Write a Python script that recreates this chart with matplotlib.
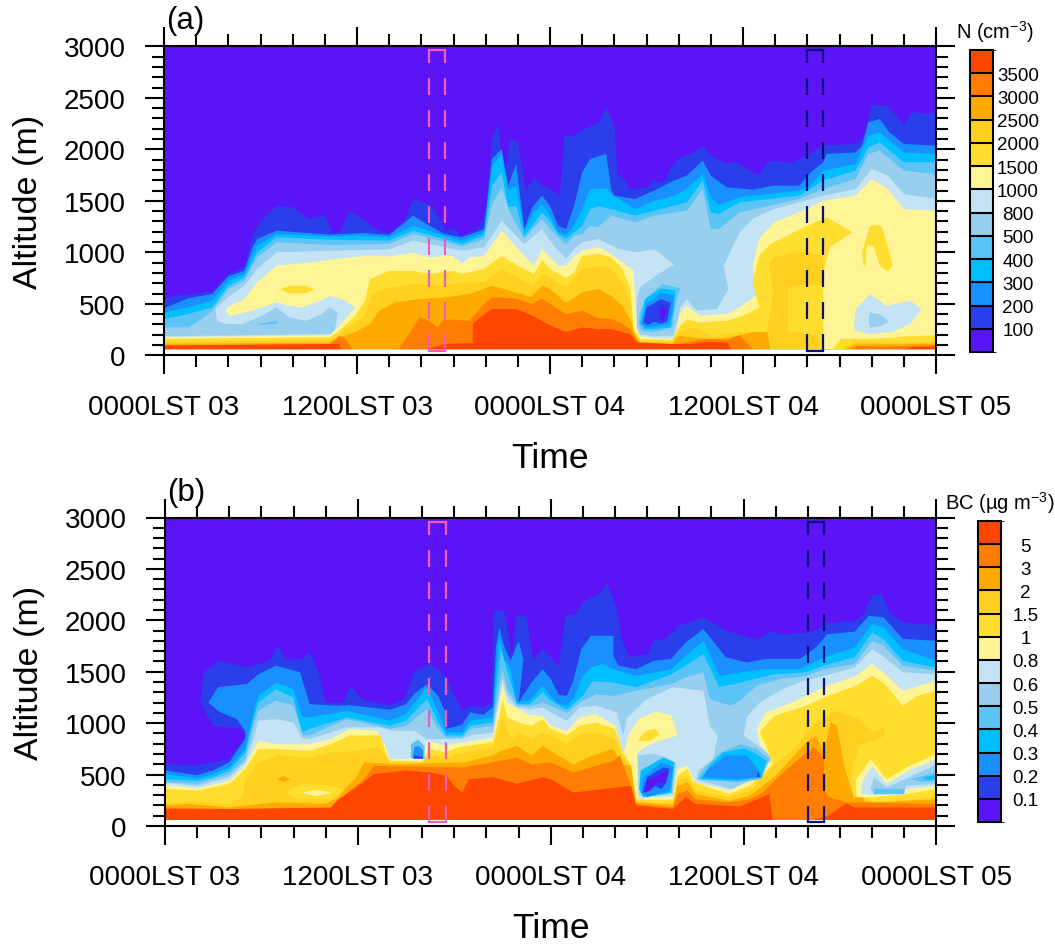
import matplotlib
matplotlib.use('Agg')
import matplotlib.pyplot as plt
import matplotlib as mpl
from matplotlib.colors import ListedColormap, BoundaryNorm

plt.rcParams['font.family'] = ['Liberation Sans', 'DejaVu Sans']
plt.rcParams['mathtext.default'] = 'regular'

# class colours, low to high
colors = ["#5A14F5", "#2A3FEB", "#1A90FF", "#00BEFF", "#5CC3F5", "#98CEEE", "#C4E4F6",
          "#FFF596", "#FFDE30", "#FFD020", "#FFAA00", "#FF7D00", "#FF4600"]
n_labels = ["100", "200", "300", "400", "500", "800", "1000", "1500", "2000", "2500", "3000", "3500"]
bc_labels = ["0.1", "0.2", "0.3", "0.4", "0.5", "0.6", "0.8", "1", "1.5", "2", "3", "5"]
x_labels = ["0000LST 03", "1200LST 03", "0000LST 04", "1200LST 04", "0000LST 05"]
base = 60  # lowest altitude with data

# ── Panel (a): contour tops as (hour, altitude m), one list per threshold ──
a_100 = [(0,550),(1,585),(2,595),(3,620),(4,790),(5,855),(5.5,1160),(6,1300),(7,1450),(8,1440),(9,1320),(10,1360),
         (10.5,1180),(11,1210),(11.5,1390),(12,1370),(13,1240),(14,1180),(15,1320),(15.5,1520),(16,1490),(16.5,1460),
         (17,1360),(17.5,1210),(18,1230),(18.5,1155),(19,1195),(19.5,1220),(20,1390),(20.4,2100),(20.8,2240),(21.1,1620),
         (21.5,2100),(22,2070),(22.5,1600),(23,1730),(23.5,1650),(24,1620),(24.6,1550),(24.9,2130),(25.5,2130),(26,2190),
         (27,2255),(27.5,2400),(28,2230),(28.2,1750),(28.5,1730),(29,1610),(30,1630),(30.5,1700),(31,1670),(31.5,1810),
         (32,1910),(33,1970),(33.5,2030),(34,1940),(35,1860),(35.5,1880),(36,1830),(37,1750),(37.5,1870),(38,1890),
         (39,1870),(40,1940),(41,2040),(43,2050),(43.5,2120),(44,2430),(45,2420),(46,2240),(46.5,2360),(48,2340)]
a_200 = [(0,456),(1.5,553),(3,595),(4,767),(5,822),(5.5,1048),(5.8,1130),(7,1210),(10.3,1171),(12.4,1188),(14,1168),
         (15.5,1356),(16.5,1259),(17.4,1178),(18.5,1146),(19.4,1194),(19.9,1226),(20.4,1906),(21,2003),(21.4,1647),
         (21.9,1857),(22.4,1226),(22.9,1437),(23.5,1550),(24,1453),(24.5,1259),(25,1226),(25.5,1453),(26,1777),(26.5,1906),
         (27.5,1955),(27.8,1615),(28,1550),(29.3,1518),(30.5,1600),(31.7,1696),(32.5,1744),(33.5,1890),(34,1744),(35,1631),
         (36.6,1608),(37.9,1647),(39.5,1647),(40.2,1777),(41,1874),(41.2,1955),(43,1970),(43.4,2035),(43.8,2262),(44.5,2294),
         (45.1,2165),(46,2052),(48,2035)]
a_300 = [(0,417),(1.5,466),(3,530),(4,725),(5,790),(5.8,1065),(7,1178),(10.3,1155),(12.4,1162),(14,1146),(15.5,1259),
         (16.5,1210),(17.4,1162),(18.5,1113),(19.4,1162),(19.9,1194),(20.4,1841),(21,1955),(21.4,1600),(21.9,1647),(22.4,1210),
         (23,1388),(23.5,1469),(24,1356),(24.5,1194),(25,1168),(25.5,1259),(26,1420),(26.5,1615),(27.5,1620),(27.8,1566),
         (29.3,1420),(30.5,1500),(31.7,1550),(32.5,1615),(33.5,1760),(34,1534),(34.5,1460),(35.8,1534),(36.6,1550),(39.5,1600),
         (40.2,1647),(41,1793),(43,1857),(43.8,2132),(44.5,2165),(45.1,2084),(46,1970),(48,1955)]
a_400 = [(0,353),(1.5,401),(3,466),(4,676),(5,757),(5.8,1000),(7,1146),(10.3,1123),(14,1113),(15.5,1210),(17.4,1130),
         (18.5,1081),(19.9,1162),(20.4,1647),(21,1777),(21.4,1437),(21.9,1453),(22.4,1155),(23.5,1388),(24,1307),(24.5,1178),
         (25,1130),(25.5,1194),(26,1259),(26.5,1420),(27,1446),(27.8,1420),(29.3,1356),(30.5,1404),(32.5,1485),(33.5,1696),
         (34,1388),(34.5,1372),(35.8,1485),(39.5,1550),(41,1696),(43,1793),(43.8,2019),(44.5,2068),(46,1874),(48,1874)]
a_500 = [(0,272),(1.5,272),(2.2,337),(3,434),(4,644),(5,725),(5.8,951),(7,1097),(10.3,1071),(14,1081),(15.5,1178),(17.4,1103),
         (18.5,1058),(19.9,1129),(20.4,1469),(21,1631),(21.5,1388),(22.4,1136),(23.5,1324),(24,1226),(24.5,1146),(25,1081),
         (25.5,1162),(26,1178),(26.5,1259),(27,1245),(27.8,1356),(29.3,1291),(30.5,1356),(32.5,1404),(33.5,1615),(34,1226),
         (34.5,1226),(35.8,1388),(39.5,1518),(41,1615),(43,1712),(43.8,1955),(44.5,1987),(46,1793),(48,1760)]
a_800 = [(0,185),(10.3,205),(10.6,225),(10.8,415),(10.3,465),(9.8,400),(8.8,335),(7.8,370),(7,465),(6.1,385),(4.9,305),
         (3.9,305),(3.3,335),(3.2,450),(4.1,580),(5,675),(5.8,840),(7,1000),(10.3,1015),(14,1030),(15.5,1115),(17.4,1050),
         (18.5,1015),(19.9,1050),(21,1305),(21.5,1225),(22.4,1080),(23.5,1225),(24,1115),(24.5,1015),(25,940),(25.5,1030),
         (26,1095),(27,1130),(28.3,1030),(29.4,1000),(30.5,1030),(31.7,880),(30.6,775),(29.6,660),(29.4,545),(29.4,275),
         (29.6,205),(30.4,185),(31.7,190),(31.8,270),(32.1,465),(32.5,545),(33.1,435),(34.4,450),(35.1,645),(34.8,870),
         (35.8,1195),(36.6,1325),(37.9,1420),(39.5,1485),(41,1550),(43,1615),(44,1810),(45,1745),(46,1565),(48,1520)]
a_1000 = [(0,175),(10.3,195),(10.7,255),(11.9,465),(11.1,545),(10.3,575),(9.5,515),(8.6,465),(7.8,480),(7,515),(6.1,465),
          (5.1,415),(4.1,385),(3.8,435),(4.1,480),(5,545),(5.8,710),(7,870),(9,900),(10.7,935),(12.4,965),(14,960),(15.5,995),
          (16.5,950),(17.4,965),(18,965),(18.5,885),(19,950),(19.9,965),(21,1210),(22.2,1000),(23,870),(23.5,1030),(24,950),
          (24.5,870),(25,870),(25.5,960),(26,1015),(27,1050),(27.8,985),(28.5,900),(29.2,820),(29.3,545),(29.4,270),(29.6,185),
          (30.4,165),(31.6,165),(31.9,255),(32.1,415),(32.5,480),(33.3,385),(35,400),(35.8,465),(36.8,580),(36.6,870),(37,1130),
          (37.9,1290),(39.5,1390),(41,1500),(43,1550),(44,1710),(45,1615),(46,1420),(48,1405)]
a_1500 = [(0,160),(10.3,175),(10.8,225),(11.9,385),(12.5,530),(12.8,740),(14,820),(15.5,820),(16.5,790),(18,820),(18.5,790),
          (19,805),(19.9,840),(21,965),(22,870),(23,790),(23.5,920),(24,840),(25,750),(25.5,805),(26,965),(27,985),(27.8,950),
          (28.5,840),(29,645),(29.2,255),(29.6,160),(31.6,150),(32,270),(32.5,350),(33.3,320),(35,335),(36,385),(37,465),
          (36.6,710),(37,965),(37.7,1080),(40,1260),(41.2,1340),(42.8,1195),(41.4,1050),(41,805),(41,60)]
a_2000 = [(0,130),(10.3,150),(10.9,205),(11.9,320),(12.5,385),(12.9,595),(14,660),(15.5,690),(17.5,675),(18.6,710),(19.9,710),
          (21,840),(22,755),(23,675),(23.5,790),(24,755),(25,660),(26,840),(27,870),(27.8,840),(28.5,710),(29,530),(29.2,225),
          (29.6,140),(31.6,130),(32,225),(32.5,270),(33.3,255),(34.2,175),(35.8,225),(37.5,225),(37.9,610),(37.6,900),(37.9,950),
          (39.5,1015),(40.9,965),(41,870),(40.9,675),(40,690),(38.8,660),(38.8,225),(39.5,225),(40.6,190),(40.9,60)]
a_2500 = [(0,110),(10.3,125),(10.9,175),(11.9,225),(12.8,305),(13.4,435),(14.4,515),(15.9,545),(17.7,565),(19,595),(20.4,675),
          (21.9,610),(22.8,565),(23.5,675),(24,645),(25,510),(26,610),(27,645),(27.8,580),(28.5,480),(29,350),(29.3,190),(29.6,125),
          (31.6,110),(32,190),(33.7,160),(34.1,160),(35.3,175),(36.6,225),(37.5,225),(37.7,60)]
a_3000 = [(0,95),(10.3,110),(10.9,185),(11.3,160),(11.7,60),(14.6,60),(15.3,225),(15.9,370),(16.5,335),(17,270),(17.4,350),(19,335),
          (19.8,480),(20.4,565),(21.9,550),(22.9,500),(23.5,550),(24,500),(25,400),(26,435),(27,360),(27.8,355),(28.5,305),(29,255),
          (29.3,165),(29.6,110),(31.6,100),(33.7,160),(35,150),(35.8,195),(36.6,60)]
a_3500 = [(0,95),(10.9,110),(11,60),(16.5,60),(17.4,110),(19.2,120),(19.2,305),(19.8,385),(20.4,450),(21.9,450),(22.9,385),(24,290),
          (25,225),(26,270),(27,255),(27.8,255),(28.5,225),(29,205),(29.4,125),(31.6,110),(32.7,110),(33.7,130),(35,125),(35.3,60)]

# pockets and holes in panel (a), as (class index, outline)
a_yellow_left = [(7.2,640),(7.8,675),(8.8,675),(9.35,640),(8.8,600),(7.8,600)]
a_sky_left = [(5.9,305),(7,335),(7,305),(6,295)]
a_yellow_right = [(43.5,870),(43.4,1000),(43.9,1260),(44.6,1260),(45,1065),(45.3,870),(45,810),(44.5,870),(44.1,1065),(43.7,1065),(43.6,870)]
a_low_yellow = [(41.6,60),(42.1,160),(44.1,160),(46.2,185),(48,195),(48,60)]
a_low_gold = [(42.1,60),(42.9,125),(44.9,125),(46.6,110),(48,140),(48,60)]
a_low_amber = [(42.3,60),(43,105),(44.9,105),(48,115),(48,60)]
a_low_orange = [(42.7,60),(43.1,90),(44.9,85),(48,100),(48,60)]
a_low_red = [(46,60),(46.6,80),(48,85),(48,60)]
a_pale_right = [(42.9,270),(43,450),(43.9,595),(44.9,480),(46.4,530),(47.1,450),(46.4,305),(45.3,225),(43.9,205),(43,240)]
a_blue_right = [(43.8,335),(43.9,415),(44.5,400),(45.1,325),(44.5,280),(43.9,270)]
a_hole_sky = [(29.5,305),(29.6,415),(30,565),(31,690),(32.1,650),(31.8,480),(31.6,270),(30.4,225),(29.7,240)]
a_hole_cyan = [(29.6,305),(29.9,545),(30.9,650),(31.8,630),(31.7,465),(31.5,270),(30.5,255),(29.9,255)]
a_hole_azure = [(29.7,305),(30,500),(30.9,605),(31.7,580),(31.6,415),(31.4,305),(30.5,280),(30,270)]
a_hole_royal = [(29.8,320),(30,465),(30.9,545),(31.5,510),(31.3,335),(30.9,305),(30.5,325),(30.1,295)]
a_hole_violet = [(30.8,465),(31.3,465),(31,320),(30.8,385)]

# ── Panel (b) ──
b_01 = [(0,600),(2,590),(3,620),(4,650),(5,880),(4.7,945),(3,975),(2.2,1200),(2.4,1495),(3.4,1605),(5.1,1540),(6.5,1605),(7,1750),
        (7.5,1620),(8.5,1620),(9,1690),(9.5,1525),(10,1200),(11.1,1200),(11.5,1355),(12.1,1265),(12.3,1225),(14,1175),(14.9,1235),
        (15.5,1495),(16.5,1580),(17.5,1445),(18,1265),(18.5,1130),(19,1170),(19.8,1155),(20.3,1200),(20.5,2095),(21.1,2095),(21.6,1655),
        (21.9,2060),(22.5,2030),(22.9,1620),(23.5,1720),(24,1640),(24.5,1560),(24.9,2045),(25.5,2060),(26,2175),(27,2255),(27.5,2360),
        (28.1,2110),(28.4,1820),(28.9,1640),(30,1670),(30.5,1820),(31,1800),(32,1945),(33.5,2030),(34.9,1900),(36.8,1810),(37.6,1890),
        (38.5,1860),(39.9,1880),(40.5,1900),(41.2,1975),(42.9,1995),(43.5,2060),(44,2245),(44.6,2255),(45.1,2075),(46,1975),(48,1955)]
b_02 = [(0,540),(2,495),(3,540),(4,620),(5,845),(5,925),(4.45,1040),(3.4,1110),(2.7,1200),(3.3,1350),(5.1,1380),(5.8,1475),(6.9,1560),
        (8.4,1495),(9,1185),(10.7,1170),(11.5,1175),(14,1130),(15,1185),(15.5,1285),(16.3,1380),(17,1265),(17.4,1120),(17.5,945),(18.3,975),
        (18.5,990),(19,1105),(19.8,1080),(20.4,1155),(20.6,1750),(20.8,1930),(21.1,1750),(21.5,1605),(22,1800),(22.3,1620),(22,1200),
        (22.8,1395),(23.5,1525),(24,1430),(24.5,1275),(25,1265),(25.4,1410),(25.9,1720),(26.5,1850),(27.9,1850),(27.9,1655),(28.2,1560),
        (29.3,1525),(30.4,1605),(31.5,1625),(32.4,1785),(33.5,1915),(34.9,1640),(36.2,1590),(37.4,1625),(39.5,1625),(40.5,1735),(41.2,1865),
        (42.9,1890),(43.8,2045),(44.7,2030),(45.9,1820),(48,1800)]
b_03 = [(0,505),(2,465),(3,505),(4,570),(5,750),(5.5,1105),(5.8,1265),(6.9,1395),(8,1330),(8.5,1070),(9,1055),(11.3,1120),(14,1025),
        (15,1090),(16.3,1350),(17,1105),(17.5,910),(18.5,910),(19,1025),(20.4,1055),(20.6,1525),(20.8,1850),(21.1,1625),(21.5,1525),
        (21.9,1200),(22.7,1220),(23.5,1365),(24,1265),(24.5,1185),(25,1175),(25.4,1235),(26,1460),(26.5,1540),(27.2,1575),(27.9,1525),
        (29.3,1460),(31.5,1525),(32.4,1655),(33.5,1800),(34.5,1460),(35.8,1495),(37.4,1525),(39.5,1525),(41,1640),(42.9,1735),(44,1965),
        (44.7,1930),(45.9,1720),(48,1605)]
b_04 = [(0,455),(2,440),(3,475),(4,540),(5,715),(5.5,1040),(5.8,1200),(6.9,1330),(8,1250),(8.5,910),(9,945),(11.3,1055),(14,975),(15,1025),
        (16.3,1235),(17,1010),(17.5,880),(18.5,880),(19,975),(20.4,1010),(20.7,1460),(20.9,1720),(21.2,1560),(21.9,1185),(22.7,1185),
        (23.5,1300),(24,1220),(25,1130),(25.4,1185),(26,1265),(26.6,1410),(27.9,1395),(29.3,1350),(31.5,1475),(32.4,1560),(33.5,1670),
        (34.5,1350),(35.8,1395),(37.8,1475),(39.9,1495),(41,1560),(42.9,1640),(44,1880),(44.7,1820),(45.9,1605),(48,1540)]
b_05 = [(0,430),(2,410),(4,505),(5,650),(5.5,975),(5.8,1120),(6.9,1220),(8,1170),(8.6,880),(9,880),(11.3,1040),(14,945),(15,975),(16.3,1135),
        (17,945),(17.5,860),(18.5,860),(19,945),(20.4,975),(20.8,1365),(21,1525),(21.3,1330),(21.9,1175),(22.7,1165),(23.5,1200),(24,1170),
        (25,1100),(25.8,1200),(26.8,1280),(27.9,1265),(29.3,1315),(31.5,1380),(32.4,1445),(33.5,1495),(33.9,1235),(35.2,1170),(35.8,1220),
        (36.8,1365),(38.3,1430),(39.9,1460),(41,1525),(42.9,1575),(44,1800),(44.7,1755),(45.9,1560),(48,1510)]
b_06 = [(0,420),(2,390),(4,475),(5,620),(5.5,845),(5.8,1025),(6.9,1040),(8,1005),(8.5,860),(9,845),(11.3,960),(13.4,960),(14.1,925),(15.5,925),
        (16.3,845),(17.5,845),(18.5,845),(19,880),(20.4,910),(20.8,1265),(21,1430),(21.3,1265),(21.9,1155),(22.7,1135),(23.5,1155),(24,1105),
        (25,1025),(25.8,1155),(26.8,1170),(28.1,1105),(28.5,880),(28.75,1055),(30,1235),(31.6,1350),(33.5,1315),(33.9,975),(34.4,880),(34.1,650),
        (33.2,540),(33.1,450),(35.6,345),(36.9,440),(37.9,600),(37.6,700),(36,880),(36.2,1060),(37,1200),(38.3,1320),(39.5,1400),(41,1460),
        (42.9,1540),(44,1720),(44.7,1650),(45.9,1495),(48,1475)]
b_08 = [(0,400),(2,365),(4,440),(5,585),(5.8,830),(6.9,795),(9,795),(10.3,845),(11.5,945),(13.2,925),(13.7,780),(14,650),(16,655),(16.3,830),
        (17.5,780),(18.2,805),(20.4,860),(20.8,1200),(21,1380),(21.3,1200),(22,1135),(22.7,1080),(23.5,1070),(24,975),(25,925),(25.8,1055),
        (26.8,1090),(28,975),(28.5,700),(28.9,910),(29.5,1040),(30.5,1110),(31.5,1080),(31.9,880),(31,840),(30,780),(29.4,715),(29.4,360),
        (29.5,260),(30.4,280),(31.6,280),(31.9,555),(32.5,585),(33,425),(35.1,345),(36.4,440),(37.8,650),(37,795),(36.8,945),(37.4,1105),
        (39,1200),(41,1350),(43,1460),(44,1575),(44.7,1495),(45.9,1315),(48,1410)]
b_1 = [(0,360),(2,345),(4,410),(5,555),(5.8,750),(6.9,750),(9,730),(10.3,795),(11.5,880),(13.4,880),(13.8,685),(14,635),(16,625),(16.4,750),
       (17.5,715),(18.2,765),(20.4,815),(20.8,1070),(21,1235),(21.3,1055),(22,1005),(22.8,975),(23.5,1040),(24,945),(25,880),(25.8,975),(26.8,1005),
       (28,945),(28.5,715),(29,590),(29.3,260),(30.4,255),(31.6,255),(31.9,490),(32.5,555),(32.9,425),(35.1,310),(36.4,390),(37.8,600),(37.4,780),
       (37,910),(37.9,1070),(39.9,1170),(41,1250),(43,1365),(44,1460),(44.7,1395),(45.9,1170),(46.8,1265),(48,1315)]
b_15 = [(0,215),(1.45,245),(4,215),(4.8,280),(5,440),(5.8,620),(7.1,685),(9,660),(10.3,715),(11.9,730),(13.3,765),(13.8,660),(14,620),(16,620),
        (16.4,690),(17.5,665),(18.2,700),(20.4,765),(20.8,945),(21,1070),(21.3,910),(21.6,845),(22,910),(22.8,845),(23.5,910),(24,880),(25,795),
        (25.8,895),(26.8,910),(28,845),(28.5,665),(28.9,600),(29.3,245),(30.5,225),(31.6,230),(31.9,440),(32.5,475),(33,345),(35.1,280),(36.4,345),
        (37.7,555),(39.3,780),(40.3,975),(41.6,1120),(43.2,1040),(44.1,910),(44.7,960),(44.8,880),(44.1,830),(43.2,780),(42.8,555),(42.4,295),
        (43,280),(43.5,280),(43.9,245),(45,230),(48,280)]
b_2 = [(0,200),(1.45,215),(4,180),(6.9,230),(10,215),(10.8,280),(11.1,345),(11.9,475),(12.4,620),(14.4,600),(18.6,620),(20.4,685),(20.9,730),
       (21.9,780),(22.8,685),(23.5,780),(24,730),(25.4,600),(26.6,685),(27.9,750),(28.4,600),(29,585),(29.3,230),(31.6,205),(31.9,390),(32.5,425),
       (33,310),(35.1,245),(36.4,295),(38,490),(39.9,815),(40.5,880),(41,715),(41.4,1010),(41.8,975),(42.3,555),(42.7,360),(42.9,260),(43.2,390),
       (43.5,245),(44.1,230),(48,260)]
b_3 = [(0,180),(4,165),(10.3,170),(10.7,230),(11.5,345),(12.3,440),(13,585),(16.5,575),(18.6,570),(20.4,620),(21.9,665),(22.8,600),(24,620),
       (25.4,520),(27.9,635),(28.3,685),(28.9,425),(29.3,215),(31.6,180),(31.9,310),(32.5,345),(33,260),(35.1,230),(36.4,260),(37.2,325),(38,455),
       (39.9,715),(40.4,765),(41,665),(41,360),(41.3,280),(42.4,230),(42.9,230),(48,215)]
b_5 = [(0,165),(4,165),(10.3,180),(10.8,260),(11.9,375),(13,505),(15,540),(16.5,520),(17.5,490),(18,390),(18.5,325),(18.9,455),(20.4,475),(21.9,410),
       (23.5,475),(24,455),(25.4,325),(29,390),(29.3,200),(31.6,165),(32.4,280),(33,215),(35.8,190),(37.6,310),(37.8,60)]

b_red_right = [(40.3,60),(41.2,95),(42.4,220),(42.9,180),(48,180),(48,60)]
b_amber_dot = [(7,455),(7.35,485),(7.8,455),(7.4,430)]
b_yellow_left = [(7.8,360),(8.6,410),(10.5,390),(11.1,345),(10.3,260),(8.2,260),(7.6,310)]
b_pale_left = [(8.5,325),(9.4,350),(10.4,325),(9.4,290)]
b_yellow_mid = [(29.4,830),(29.9,925),(30.5,945),(30.8,890),(30.2,830)]
b_p1_sky = [(15.3,665),(15.3,795),(15.75,840),(16.15,780),(16.15,650)]
b_p1_azure = [(15.4,655),(15.5,765),(15.8,780),(16.05,735),(16.05,655)]
b_p1_royal = [(15.5,655),(15.5,685),(16,675),(16.05,655)]
b_p2_light = [(29.4,685),(30.4,705),(31.2,665),(31.8,610),(31.6,310),(30.4,290),(29.5,295)]
b_p2_cyan = [(29.5,360),(29.6,540),(31,665),(31.7,620),(31.5,325),(30.5,295),(29.75,280)]
b_p2_azure = [(29.65,325),(29.75,475),(30.9,620),(31.6,570),(31.4,345),(30.5,310),(30,280)]
b_p2_royal = [(29.7,320),(30,475),(31,570),(31.4,555),(31.2,425),(30.9,360),(30.5,390),(30.2,345)]
b_p2_violet = [(29.9,325),(30,440),(30.9,505),(31.3,540),(31.1,425),(30.6,425),(30.2,360)]
b_p3_sky = [(33.1,455),(33.7,585),(34.6,715),(35.8,795),(36.8,750),(37.6,650),(37.1,455),(35.6,425)]
b_p3_cyan = [(33.3,455),(33.9,585),(34.7,715),(36,755),(36.8,700),(37.4,635),(37.1,475),(35.6,440)]
b_p3_azure = [(33.5,475),(33.7,540),(34.9,685),(36.2,685),(36.7,585),(37,475),(35.6,455)]
b_p3_royal = [(36.8,475),(36.9,540),(37.05,475)]
b_r_yellow = [(43,280),(43,455),(43.9,650),(44.9,455),(46.3,585),(48,700),(48,360),(46.1,310),(44.1,280)]
b_r_pale = [(43.3,310),(43.4,440),(44,585),(44.9,410),(46.3,540),(48,650),(48,390),(46.1,360),(45.9,300),(44.1,300)]
b_r_light = [(43.9,360),(44.1,475),(44.9,375),(46.3,475),(48,600),(48,410),(46.1,390),(46,310),(44.1,310)]
b_r_sky1 = [(44.1,355),(46,355),(46,310),(44.1,310)]
b_r_sky2 = [(46.4,455),(48,520),(48,440),(47,430)]
b_r_cyan = [(47.2,475),(48,495),(48,450),(47.3,450)]

a_layers = [a_100, a_200, a_300, a_400, a_500, a_800, a_1000, a_1500, a_2000, a_2500, a_3000, a_3500]
b_layers = [b_01, b_02, b_03, b_04, b_05, b_06, b_08, b_1, b_15, b_2, b_3, b_5]
a_patches = [(8, a_yellow_left), (4, a_sky_left), (8, a_yellow_right), (8, a_low_yellow), (9, a_low_gold), (10, a_low_amber),
             (11, a_low_orange), (12, a_low_red), (6, a_pale_right), (5, a_blue_right), (4, a_hole_sky), (3, a_hole_cyan),
             (2, a_hole_azure), (1, a_hole_royal), (0, a_hole_violet)]
b_patches = [(12, b_red_right), (10, b_amber_dot), (8, b_yellow_left), (7, b_pale_left), (8, b_yellow_mid), (4, b_p1_sky), (2, b_p1_azure),
             (1, b_p1_royal), (5, b_p2_light), (3, b_p2_cyan), (2, b_p2_azure), (1, b_p2_royal), (0, b_p2_violet), (4, b_p3_sky), (3, b_p3_cyan),
             (2, b_p3_azure), (1, b_p3_royal), (7, b_r_yellow), (6, b_r_pale), (5, b_r_light), (4, b_r_sky1), (4, b_r_sky2), (3, b_r_cyan)]

box_t1 = [16.45, 17.5]
box_t2 = [40.0, 41.0]
box_h = [40, 2960]
pink = "#F25CB4"
navy = "#0A0F80"
BLACK_LW = 1.5


def draw_panel(rect, layers, patches, letter):
    ax = fig.add_axes(rect)
    ax.fill([0, 48, 48, 0], [base, base, 3000, 3000], color=colors[0], lw=0)
    for i, top in enumerate(layers):
        t, h = zip(*top)
        ax.fill(list(t) + [t[-1], t[0]], list(h) + [base, base], color=colors[i + 1], lw=0)
    for idx, outline in patches:
        t, h = zip(*outline)
        ax.fill(t, h, color=colors[idx], lw=0)

    for (t0, t1), col in [(box_t1, pink), (box_t2, navy)]:
        for t in (t0, t1):
            ax.plot([t, t], [box_h[1], box_h[0]], color=col, lw=1.6,
                    linestyle=(1.8, (7.65, 6.75)), clip_on=False, zorder=4, solid_capstyle='butt')
        for h in box_h:
            ax.plot([t0, t1], [h, h], color=col, lw=1.6, clip_on=False, zorder=4)

    ax.set_xlim(0, 48)
    ax.set_ylim(0, 3000)
    ax.set_xticks(range(0, 49, 12))
    ax.set_xticks(range(0, 49, 2), minor=True)
    ax.set_yticks(range(0, 3001, 500))
    ax.set_yticks(range(0, 3001, 100), minor=True)
    ax.set_xticklabels(x_labels)
    ax.tick_params(which='major', direction='out', length=13.7, width=BLACK_LW,
                   top=True, right=True, labelsize=20, pad=14)
    ax.tick_params(which='minor', direction='out', length=8.6, width=BLACK_LW, top=True, right=True)
    for s in ax.spines.values():
        s.set_linewidth(BLACK_LW)
    ax.set_ylabel("Altitude (m)", fontsize=24.5)
    ax.yaxis.set_label_coords(-0.155, 0.5)
    ax.set_xlabel("Time", fontsize=25.5, labelpad=15)
    ax.text(0.003, 1.035, letter, transform=ax.transAxes, fontsize=22.5, va='bottom')
    return ax


def draw_bar(rect, labels, title, title_x, title_y):
    cax = fig.add_axes(rect)
    norm = BoundaryNorm(range(len(colors) + 1), len(colors))
    cb = mpl.colorbar.ColorbarBase(cax, cmap=ListedColormap(colors), norm=norm, spacing='uniform',
                                   ticks=range(1, len(colors)), drawedges=True)
    cb.set_ticklabels(labels)
    cb.dividers.set_color('black')
    cb.dividers.set_linewidth(BLACK_LW)
    cb.outline.set_linewidth(BLACK_LW)
    cax.tick_params(length=0, labelsize=13.5, pad=18)
    for lab in cax.get_yticklabels():
        lab.set_ha('center')
    fig.text(title_x / 1055, 1 - title_y / 945, title, fontsize=14.5, ha='center', va='center')


fig = plt.figure(figsize=(10.55, 9.45), dpi=100)
draw_panel([164 / 1055, 1 - 356.3 / 945, 772 / 1055, 309 / 945], a_layers, a_patches, "(a)")
draw_panel([165 / 1055, 1 - 827 / 945, 771.5 / 1055, 308.5 / 945], b_layers, b_patches, "(b)")
draw_bar([970 / 1055, 1 - 353 / 945, 23 / 1055, 302 / 945], n_labels, "N (cm$^{-3}$)", 995, 32)
draw_bar([977.7 / 1055, 1 - 823 / 945, 23 / 1055, 301 / 945], bc_labels, "BC (µg m$^{-3}$)", 1000, 503)
fig.savefig("out.png", dpi=100)
